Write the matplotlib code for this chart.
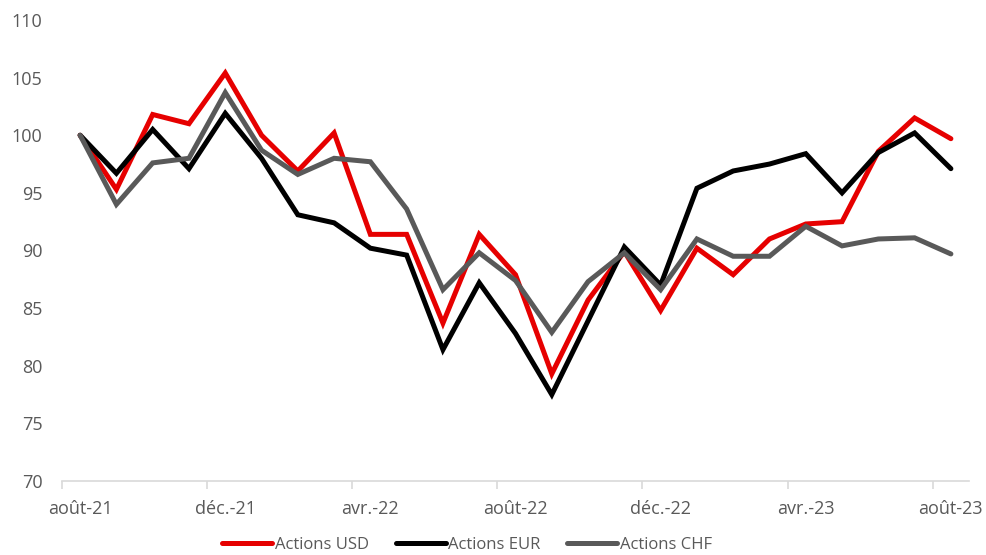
import matplotlib
matplotlib.use('Agg')
import matplotlib.pyplot as plt
import numpy as np

# ── données ───────────────────────────────────────────────────────────── #
months = ['août-21', 'sept.-21', 'oct.-21', 'nov.-21', 'déc.-21', 'janv.-22',
          'févr.-22', 'mars-22', 'avr.-22', 'mai-22', 'juin-22', 'juil.-22',
          'août-22', 'sept.-22', 'oct.-22', 'nov.-22', 'déc.-22', 'janv.-23',
          'févr.-23', 'mars-23', 'avr.-23', 'mai-23', 'juin-23', 'juil.-23',
          'août-23']
usd = [100.0, 95.3, 101.8, 101.0, 105.4, 100.0, 96.9, 100.2, 91.4, 91.4,
       83.7, 91.4, 87.9, 79.3, 85.7, 89.9, 84.8, 90.2, 87.9, 91.0,
       92.3, 92.5, 98.6, 101.5, 99.7]
eur = [100.0, 96.7, 100.5, 97.1, 101.9, 98.0, 93.1, 92.4, 90.2, 89.6,
       81.4, 87.2, 82.8, 77.5, 83.9, 90.3, 87.0, 95.4, 96.9, 97.5,
       98.4, 95.0, 98.5, 100.2, 97.1]
chf = [100.0, 94.0, 97.6, 98.0, 103.7, 98.7, 96.6, 98.0, 97.7, 93.6,
       86.6, 89.8, 87.4, 82.9, 87.3, 89.8, 86.6, 91.0, 89.5, 89.5,
       92.1, 90.4, 91.0, 91.1, 89.7]

series = [('Actions USD', usd, '#E60000'),
          ('Actions EUR', eur, '#000000'),
          ('Actions CHF', chf, '#595959')]

plt.rcParams['font.family'] = ['Open Sans', 'DejaVu Sans']
TXT = '#595959'

fig = plt.figure(figsize=(9.87, 5.55), dpi=100)
ax = fig.add_axes([0.0628, 0.1333, 0.919, 0.8307])

x = np.arange(len(months))
for name, vals, col in series:
    ax.plot(x, vals, color=col, lw=3.6, label=name,
            solid_joinstyle='miter', solid_capstyle='round')

ax.set_xlim(-0.5, len(months) - 0.5)
ax.set_ylim(70, 110)
ax.set_yticks(np.arange(70, 111, 5))

# étiquettes au centre des catégories, graduations entre les catégories
ax.set_xticks(x[::4])
ax.set_xticklabels(months[::4])
ax.set_xticks(np.arange(-0.5, len(months) - 0.5, 4), minor=True)
ax.tick_params(axis='x', which='major', length=0, pad=14, labelsize=13, labelcolor=TXT)
ax.tick_params(axis='x', which='minor', length=6, width=1.2, color='#D9D9D9')
ax.tick_params(axis='y', length=0, pad=14, labelsize=13, labelcolor=TXT)

for s in ['top', 'right', 'left']:
    ax.spines[s].set_visible(False)
ax.spines['bottom'].set_color('#D9D9D9')
ax.spines['bottom'].set_linewidth(1.2)

leg = ax.legend(loc='center', bbox_to_anchor=(0.4466, -0.139), ncol=3, frameon=False,
                fontsize=12, handlelength=3.0, handletextpad=0.15, columnspacing=1.6,
                labelcolor=TXT, borderpad=0)

fig.savefig('out.png', dpi=100)
